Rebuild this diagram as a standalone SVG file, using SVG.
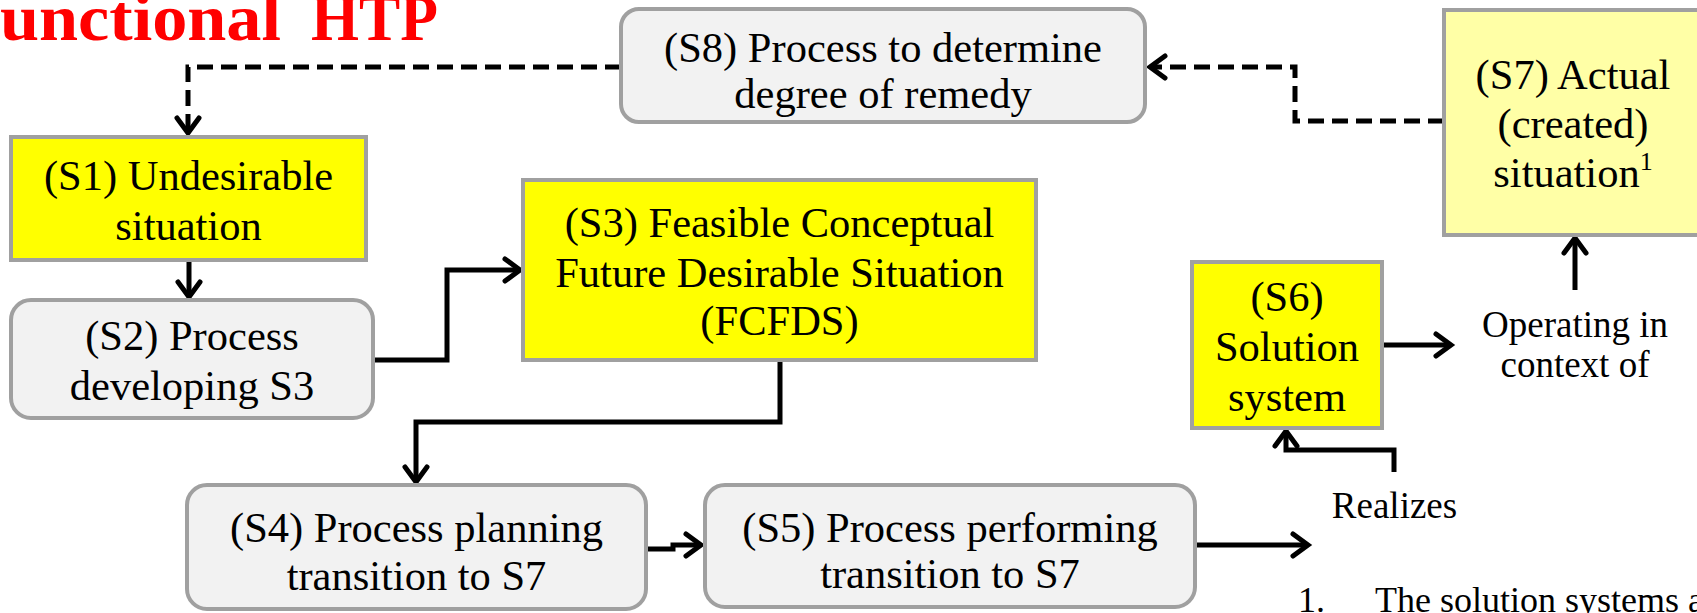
<svg xmlns="http://www.w3.org/2000/svg" width="1697" height="613" viewBox="0 0 1697 613">
  <defs>
    <style>
      .txt { font-family: "Liberation Serif", "Times New Roman", serif; font-size: 42.5px; fill: #000; text-anchor: middle; }
      .lbl { font-family: "Liberation Serif", "Times New Roman", serif; font-size: 37px; fill: #000; text-anchor: middle; }
      .note { font-family: "Liberation Serif", "Times New Roman", serif; font-size: 36px; fill: #000; }
      .title { font-family: "Liberation Serif", "Times New Roman", serif; font-size: 66px; font-weight: bold; fill: #ff0000; }
      .proc { fill: #f2f2f2; stroke: #a0a0a0; stroke-width: 4; }
      .state { fill: #ffff00; stroke: #a0a0a0; stroke-width: 4; }
      .actual { fill: #ffffa6; stroke: #a0a0a0; stroke-width: 4; }
      .wire { fill: none; stroke: #000; stroke-width: 5; marker-end: url(#open); }
      .dash { stroke-dasharray: 16 8; }
    </style>
    <marker id="open" markerUnits="userSpaceOnUse" orient="auto" refX="0" refY="0" markerWidth="40" markerHeight="40" viewBox="-20 -20 40 40" overflow="visible">
      <path d="M-15,-11 L0,0 L-15,11" fill="none" stroke="#000" stroke-width="5" stroke-linecap="round" stroke-linejoin="miter"/>
    </marker>
  </defs>

  <!-- heading -->
  <text class="title" x="0" y="40"><tspan textLength="281" lengthAdjust="spacingAndGlyphs">unctional</tspan><tspan x="311" textLength="127" lengthAdjust="spacingAndGlyphs">HTP</tspan></text>

  <!-- connectors -->
  <g id="connectors">
    <path class="wire dash" d="M621,67 H188 V133"/>
    <path class="wire dash" d="M1444,121 H1295 V67 H1150"/>
    <path class="wire" d="M189,260 V297"/>
    <path class="wire" d="M373,360 H447 V270 H520"/>
    <path class="wire" d="M780,360 V422 H416 V482"/>
    <path class="wire" d="M646,549 H673 V545 H701"/>
    <path class="wire" d="M1195,545 H1308"/>
    <path class="wire" d="M1382,345 H1451"/>
    <path class="wire" d="M1575,290 V238"/>
    <path class="wire" d="M1394,472 V450 H1286 V431"/>
  </g>

  <g id="S8">
    <rect class="proc" x="621" y="9" width="524" height="113" rx="18"/>
    <text class="txt" x="883" y="62">(S8) Process to determine</text>
    <text class="txt" x="883" y="108">degree of remedy</text>
  </g>

  <g id="S1">
    <rect class="state" x="11" y="137" width="355" height="123"/>
    <text class="txt" x="188.5" y="190">(S1) Undesirable</text>
    <text class="txt" x="188.5" y="240">situation</text>
  </g>

  <g id="S2">
    <rect class="proc" x="11" y="300" width="362" height="118" rx="20"/>
    <text class="txt" x="192" y="350">(S2) Process</text>
    <text class="txt" x="192" y="400">developing S3</text>
  </g>

  <g id="S3">
    <rect class="state" x="523" y="180" width="513" height="180"/>
    <text class="txt" x="779.5" y="237">(S3) Feasible Conceptual</text>
    <text class="txt" x="779.5" y="287">Future Desirable Situation</text>
    <text class="txt" x="779.5" y="335">(FCFDS)</text>
  </g>

  <g id="S4">
    <rect class="proc" x="187" y="485" width="459" height="124" rx="20"/>
    <text class="txt" x="416.5" y="542">(S4) Process planning</text>
    <text class="txt" x="416.5" y="590">transition to S7</text>
  </g>

  <g id="S5">
    <rect class="proc" x="705" y="485" width="490" height="122" rx="20"/>
    <text class="txt" x="950" y="542">(S5) Process performing</text>
    <text class="txt" x="950" y="588">transition to S7</text>
  </g>

  <g id="S6">
    <rect class="state" x="1192" y="262" width="190" height="166"/>
    <text class="txt" x="1287" y="311">(S6)</text>
    <text class="txt" x="1287" y="361">Solution</text>
    <text class="txt" x="1287" y="411">system</text>
  </g>

  <g id="S7">
    <rect class="actual" x="1444" y="10" width="262" height="225"/>
    <text class="txt" x="1573" y="89">(S7) Actual</text>
    <text class="txt" x="1573" y="138">(created)</text>
    <text class="txt" x="1573" y="187">situation<tspan font-size="26" dy="-17">1</tspan></text>
  </g>

  <g id="operating-label">
    <text class="lbl" x="1575" y="337">Operating in</text>
    <text class="lbl" x="1575" y="377">context of</text>
  </g>

  <g id="realizes-label">
    <text class="lbl" x="1394.5" y="518">Realizes</text>
  </g>

  <g id="footnote">
    <text class="note" x="1298" y="612">1.</text>
    <text class="note" x="1375" y="612">The solution systems a</text>
  </g>
</svg>
